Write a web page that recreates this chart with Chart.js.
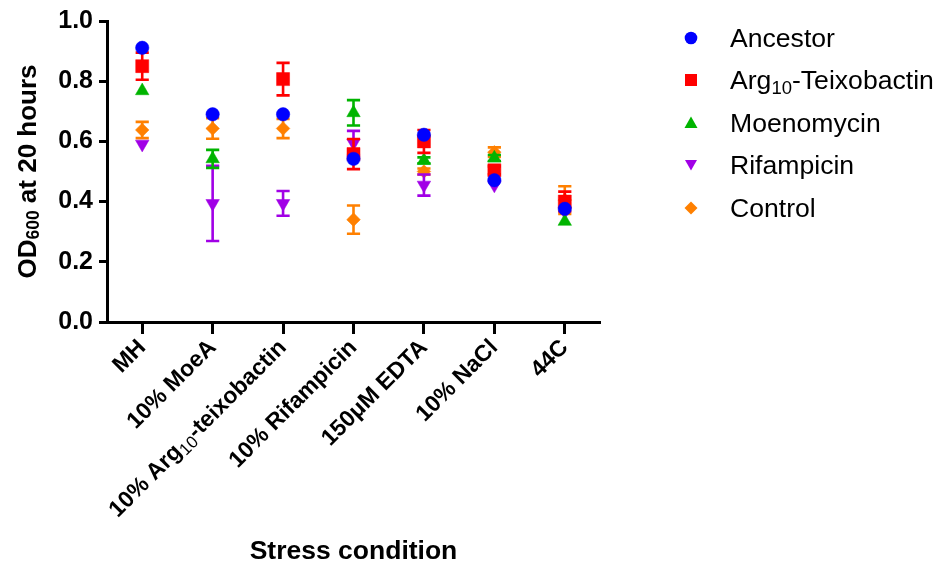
<!DOCTYPE html>
<html><head><meta charset="utf-8">
<script src="https://cdn.jsdelivr.net/npm/chart.js@4/dist/chart.umd.min.js"></script>
<style>
html,body{margin:0;padding:0;background:#fff;}
#wrap{position:relative;width:939px;height:572px;overflow:hidden;}
#c{position:absolute;left:0;top:0;}
.lg{position:absolute;height:30px;line-height:30px;font-family:Arial,"Liberation Sans",sans-serif;font-size:26.6px;color:#000;white-space:nowrap;}
.lg svg{position:absolute;left:0;top:5px;}
.lg span{position:absolute;left:49px;top:0;}
.lg sub{font-size:18.5px;vertical-align:-5px;line-height:0;}
</style></head>
<body><div id="wrap"><canvas id="c" width="939" height="572"></canvas><div id="legend"></div></div>
<script>
// ---- data ----
const categories = ['MH','10% MoeA','10% Arg_{10}-teixobactin','10% Rifampicin','150\u03bcM EDTA','10% NaCl','44C'];
const yTicks = [0.0,0.2,0.4,0.6,0.8,1.0];
const yTitle = 'OD_{600} at 20 hours';
const xTitle = 'Stress condition';

const ancestor     = [0.911,0.690,0.690,0.542,0.622,0.471,0.376];
const ancestorErr  = [0,0,0,0,0,0,0];
const arg10        = [0.850,null,0.807,0.558,0.600,0.504,0.400];
const arg10Err     = [0.045,0,0.054,0.050,0.038,0.013,0.033];
const moenomycin   = [0.768,0.542,null,0.695,0.537,0.545,0.334];
const moenomycinErr= [0,0.030,0,0.042,0.010,0.010,0];
const rifampicin   = [0.591,0.394,0.394,0.595,0.455,0.455,0.367];
const rifampicinErr= [0,0.125,0.041,0.040,0.035,0,0];
const control      = [0.638,0.643,0.643,0.340,0.500,0.564,0.405];
const controlErr   = [0.027,0.034,0.032,0.047,0.010,0.016,0.046];

const seriesNames = ['Ancestor','Arg_{10}-Teixobactin','Moenomycin','Rifampicin','Control'];
// ---------------------------------------

const FAM = 'Arial, "Liberation Sans", sans-serif';
const colors = ['#0000ff','#ff0000','#00b400','#a100e6','#ff8000'];
const styles = [
  {pointStyle:'circle', radius:6.7, rotation:0},
  {pointStyle:'rect', radius:9.2, rotation:0},
  {pointStyle:'triangle', radius:7.8, rotation:0},
  {pointStyle:'triangle', radius:7.8, rotation:180},
  {pointStyle:'rectRot', radius:6.8, rotation:0}
];
const values = [ancestor,arg10,moenomycin,rifampicin,control];
const errs = [ancestorErr,arg10Err,moenomycinErr,rifampicinErr,controlErr];

const plain = s => s.replace(/_\{([^}]*)\}/g,'$1');
const parseRich = s => {
  const out = []; const re = /_\{([^}]*)\}/g; let last = 0, m;
  while((m = re.exec(s))){ if(m.index>last) out.push({t:s.slice(last,m.index),sub:false}); out.push({t:m[1],sub:true}); last = re.lastIndex; }
  if(last < s.length) out.push({t:s.slice(last),sub:false});
  return out;
};

const datasets = values.map((v,i)=>({
  label: plain(seriesNames[i]),
  data: v,
  errors: errs[i],
  showLine:false,
  borderColor: colors[i],
  backgroundColor: colors[i],
  pointBackgroundColor: colors[i],
  pointBorderColor: colors[i],
  pointBorderWidth: 0.5,
  pointStyle: styles[i].pointStyle,
  pointRadius: styles[i].radius,
  pointHoverRadius: styles[i].radius,
  pointRotation: styles[i].rotation
}));

const errorBars = {
  id:'errorBars',
  beforeDatasetDraw(chart, args){
    const ds = chart.data.datasets[args.index];
    const ys = chart.scales.y;
    const ctx = chart.ctx;
    ctx.save();
    ctx.strokeStyle = ds.borderColor;
    ctx.lineWidth = 2.6;
    args.meta.data.forEach((pt,i)=>{
      const e = ds.errors[i], v = ds.data[i];
      if(!e || v==null) return;
      const x = pt.x;
      const yt = ys.getPixelForValue(v+e), yb = ys.getPixelForValue(v-e);
      const hw = 6.6;
      ctx.beginPath();
      ctx.moveTo(x,yt); ctx.lineTo(x,yb);
      ctx.moveTo(x-hw,yt); ctx.lineTo(x+hw,yt);
      ctx.moveTo(x-hw,yb); ctx.lineTo(x+hw,yb);
      ctx.stroke();
    });
    ctx.restore();
  }
};

// draws text with subscripts, anchored by 'right' or 'center', rotated by angle
function drawRich(ctx, str, x, y, angle, align, mainFont, subFont, subShift){
  const parts = parseRich(str);
  ctx.save();
  ctx.translate(x,y); ctx.rotate(angle);
  ctx.textBaseline = 'middle'; ctx.textAlign = 'left'; ctx.fillStyle = '#000';
  const widths = parts.map(p=>{ ctx.font = p.sub?subFont:mainFont; return ctx.measureText(p.t).width; });
  const total = widths.reduce((a,b)=>a+b,0);
  let cx = align==='right' ? -total : -total/2;
  parts.forEach((p,i)=>{ ctx.font = p.sub?subFont:mainFont; ctx.fillText(p.t, cx, p.sub?subShift:0); cx += widths[i]; });
  ctx.restore();
}

const richText = {
  id:'richText',
  afterDraw(chart){
    const ctx = chart.ctx, xs = chart.scales.x, ys = chart.scales.y;
    categories.forEach((c,i)=>{
      drawRich(ctx, c, xs.getPixelForTick(i), xs.top + 22, -Math.PI/4, 'right',
        `bold 23px ${FAM}`, `normal 17px ${FAM}`, 6);
    });
    drawRich(ctx, yTitle, 28.5, (ys.top+ys.bottom)/2, -Math.PI/2, 'center',
      `bold 26px ${FAM}`, `bold 17.5px ${FAM}`, 6);
  }
};

new Chart(document.getElementById('c'), {
  type:'line',
  data:{labels:categories.map(plain), datasets},
  plugins:[errorBars, richText],
  options:{
    responsive:false,
    animation:false,
    events:[],
    layout:{padding:{top:17,right:339,left:0,bottom:0}},
    plugins:{legend:{display:false},tooltip:{enabled:false}},
    scales:{
      x:{
        type:'category',
        offset:true,
        grid:{display:true,drawOnChartArea:false,drawTicks:true,tickLength:12,tickWidth:3,tickColor:'#000',offset:false},
        border:{display:true,color:'#000',width:3},
        ticks:{display:false,autoSkip:false},
        title:{display:true,text:xTitle,color:'#000',font:{family:FAM,size:26.5,weight:'bold'},padding:{top:0,bottom:4}},
        afterFit(s){ s.height = 250; }
      },
      y:{
        min:0,max:1,
        afterBuildTicks(s){ s.ticks = yTicks.map(v=>({value:v})); },
        grid:{display:true,drawOnChartArea:false,drawTicks:true,tickLength:8,tickWidth:3,tickColor:'#000'},
        border:{display:true,color:'#000',width:3},
        ticks:{color:'#000',font:{family:FAM,size:25,weight:'bold'},padding:6,callback:v=>Number(v).toFixed(1)},
        title:{display:false},
        afterFit(s){ s.width = 107; }
      }
    }
  }
});

// HTML legend built from the series
const legend = document.getElementById('legend');
const markerSvg = (i)=>{
  const c = colors[i];
  let shape;
  if(i===0) shape = `<circle cx="10" cy="10" r="6.3" fill="${c}"/>`;
  else if(i===1) shape = `<rect x="4" y="4" width="12" height="12" fill="${c}"/>`;
  else if(i===2) shape = `<polygon points="10,3.5 16.5,15 3.5,15" fill="${c}"/>`;
  else if(i===3) shape = `<polygon points="4,5 16,5 10,15.5" fill="${c}"/>`;
  else shape = `<polygon points="10,3.5 16.5,10 10,16.5 3.5,10" fill="${c}"/>`;
  return `<svg width="20" height="20" viewBox="0 0 20 20">${shape}</svg>`;
};
seriesNames.forEach((name,i)=>{
  const d = document.createElement('div');
  d.className='lg';
  d.style.left='681px';
  d.style.top=(38 + 42.4*i - 15)+'px';
  const label = name.replace(/_\{([^}]*)\}/g,'<sub>$1</sub>');
  d.innerHTML = markerSvg(i) + `<span>${label}</span>`;
  legend.appendChild(d);
});
</script>
</body></html>
